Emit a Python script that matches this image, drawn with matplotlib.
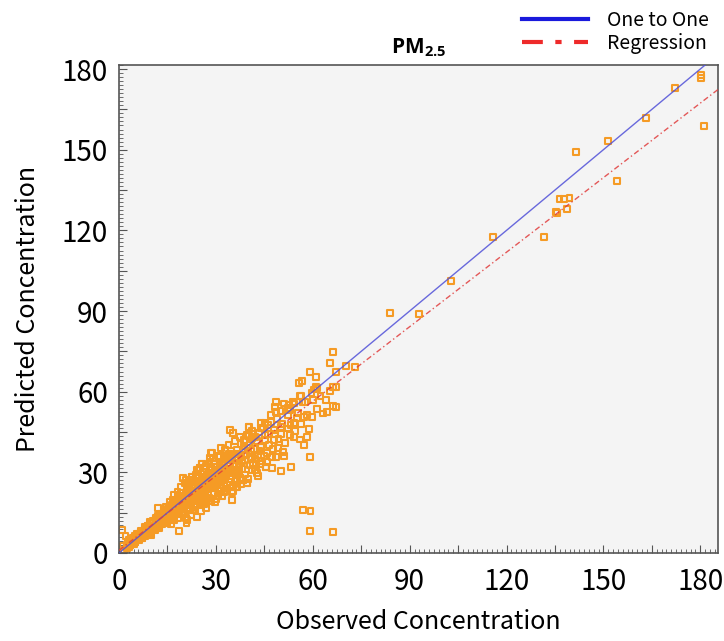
import matplotlib
matplotlib.use("Agg")
import matplotlib.pyplot as plt
from matplotlib.lines import Line2D
from matplotlib.ticker import MultipleLocator, FuncFormatter
import numpy as np

plt.rcParams['font.family'] = ['Noto Sans CJK KR', 'DejaVu Sans']
plt.rcParams['mathtext.fontset'] = 'custom'
plt.rcParams['mathtext.rm'] = 'Open Sans'
plt.rcParams['mathtext.bf'] = 'Open Sans:bold'

# dense band, read row by row along the diagonal
obs_band = [0.8, 1.5, 1.2, 2.0, 2.4, 2.8, 3.1, 3.5, 3.9, 4.2, 4.6,
            5.0, 5.3, 5.7, 6.1, 6.4, 6.8, 7.2, 7.5, 7.9, 8.2, 8.6, 8.9, 9.3, 9.7,
            10.0, 10.2, 10.5, 10.8, 11.1, 11.3, 11.6, 11.9, 12.1, 12.4, 12.7, 13.0, 13.2, 13.5, 13.8, 14.1, 14.4, 14.7,
            15.0, 15.2, 15.5, 15.7, 16.0, 16.3, 16.5, 16.8, 17.0, 17.2, 17.5, 17.8, 18.0, 18.3, 18.6, 18.9, 19.1, 19.4, 19.7,
            20.0, 20.2, 20.5, 20.7, 20.9, 21.2, 21.4, 21.7, 22.0, 22.3, 22.5, 22.7, 23.0, 23.3, 23.6, 23.9, 24.2, 24.4, 24.7,
            25.0, 25.2, 25.5, 25.7, 26.0, 26.3, 26.6, 26.8, 27.1, 27.4, 27.6, 27.9, 28.2, 28.4, 28.8, 29.0, 29.3, 29.6, 29.8,
            30.1, 30.4, 30.7, 31.0, 31.2, 31.5, 31.8, 32.1, 32.4, 32.6, 32.9, 33.2, 33.5, 33.8, 34.0, 34.4, 34.6, 34.9,
            35.1, 35.4, 35.6, 35.9, 36.2, 36.4, 36.7, 37.0, 37.4, 37.6, 37.9, 38.2, 38.5, 38.8, 39.1, 39.5, 39.8,
            40.1, 40.3, 40.6, 40.9, 41.3, 41.6, 42.0, 42.4, 42.8, 43.1, 43.5, 43.9, 44.2]
pred_band = [8.6, 1.2, 2.5, 6.2, 2.0, 3.6, 4.8, 2.9, 4.1, 5.6, 3.5,
             4.2, 5.8, 7.1, 4.9, 6.6, 8.2, 5.6, 7.4, 9.0, 6.3, 8.1, 10.2, 7.0, 11.4,
             6.7, 9.1, 11.8, 10.2, 8.5, 12.9, 10.6, 13.8, 16.6, 9.4, 12.2, 14.7, 10.8, 13.1, 15.9, 11.5, 17.2, 13.6,
             11.2, 14.1, 16.8, 18.9, 12.6, 15.4, 17.9, 13.7, 21.6, 16.2, 19.4, 14.3, 18.1, 20.6, 8.2, 15.8, 22.4, 17.3, 27.8,
             15.1, 18.4, 21.3, 27.1, 11.3, 12.3, 16.7, 23.8, 19.6, 14.2, 25.3, 28.4, 21.9, 17.2, 26.4, 19.8, 13.5, 30.9, 23.1,
             18.1, 31.5, 24.6, 33.3, 21.4, 27.5, 19.5, 16.6, 29.2, 23.8, 26.1, 20.6, 31.2, 37.1, 24.9, 35.2, 22.1, 28.3, 18.9,
             26.4, 32.1, 21.3, 29.8, 35.6, 24.1, 30.9, 27.2, 33.7, 22.6, 38.4, 29.5, 25.3, 32.8, 36.9, 45.7, 27.6, 22.5,
             19.7, 44.5, 30.4, 34.8, 24.6, 38.2, 28.9, 33.1, 27.8, 40.6, 36.3, 31.2, 27.1, 42.1, 34.5, 25.9, 38.9,
             47.0, 43.6, 32.8, 37.9, 30.9, 44.2, 35.1, 32.7, 41.6, 28.6, 37.8, 46.4, 34.2]

# second pass over the wider part of the band
obs_band2 = [15.4, 15.9, 16.2, 16.7, 17.1, 17.6, 18.1, 18.4, 18.8, 19.2, 19.5, 19.9,
             20.3, 20.8, 21.0, 21.5, 21.9, 22.1, 22.6, 22.9, 23.2, 23.7, 24.0, 24.5, 24.9,
             25.3, 25.6, 25.9, 26.2, 26.7, 27.0, 27.3, 27.8, 28.0, 28.5, 28.9, 29.1, 29.5, 29.9,
             30.2, 30.6, 30.9, 31.3, 31.7, 32.0, 32.3, 32.8, 33.1, 33.4, 33.9, 34.2, 34.5, 34.8,
             35.3, 35.7, 36.0, 36.3, 36.8, 37.1, 37.5, 37.8, 38.1, 38.6, 38.9, 39.3, 39.6,
             40.0, 40.4, 40.8, 41.1, 41.5, 41.9, 42.2, 42.6, 43.0, 43.3, 43.7, 44.0, 44.5, 44.8,
             45.3, 45.9, 46.5, 47.0, 47.6, 48.2, 48.8, 49.4, 50.0, 50.6, 51.5, 52.3, 53.1, 53.8,
             54.6, 55.5, 56.4, 57.6, 58.7, 60.1, 61.3, 62.4, 64.0, 65.3]
pred_band2 = [12.9, 16.0, 10.9, 19.7, 12.4, 16.6, 22.8, 13.1, 18.9, 24.6, 14.6, 20.8,
              25.9, 13.0, 19.0, 26.3, 15.8, 22.0, 27.2, 16.1, 23.0, 29.1, 17.9, 21.8, 27.8,
              15.7, 22.9, 30.2, 18.2, 25.1, 32.4, 20.0, 27.0, 33.9, 19.3, 29.7, 24.1, 33.1, 20.2,
              27.8, 36.1, 23.0, 31.8, 38.9, 21.1, 28.7, 35.2, 24.0, 34.4, 40.1, 26.5, 31.0, 37.9,
              23.1, 32.6, 41.5, 27.6, 35.8, 30.3, 43.2, 25.6, 34.2, 39.6, 29.2, 36.5, 43.9,
              27.6, 40.1, 34.9, 45.3, 33.4, 38.7, 43.0, 29.7, 36.4, 44.8, 33.0, 39.6, 46.5, 36.0,
              43.8, 34.0, 40.3, 51.2, 38.8, 44.1, 50.0, 42.4, 52.8, 48.1, 41.0, 53.9, 47.6, 56.2,
              45.5, 52.0, 47.9, 56.0, 46.1, 57.0, 53.4, 58.3, 56.8, 60.4]

# core of the band, close to the diagonal
obs_core = [3.3, 4.4, 5.5, 6.6, 7.7, 8.8, 9.9, 11.0, 12.0, 13.1, 14.2, 15.3, 16.4, 17.4, 18.5, 19.6, 20.6,
            21.6, 22.8, 23.8, 24.9, 26.0, 27.0, 28.1, 29.2, 30.2, 31.3, 32.4, 33.4, 34.5, 35.6, 36.6, 37.7, 38.8,
            3.8, 4.9, 6.0, 7.1, 8.3, 9.4, 10.4, 11.5, 12.6, 13.6, 14.8, 15.8, 16.9, 18.0, 19.0, 20.1,
            21.1, 22.2, 23.3, 24.3, 25.4, 26.5, 27.5, 28.6, 29.7, 30.8, 31.8, 32.9, 34.0, 35.0, 36.1, 37.2,
            2.5, 3.0, 4.0, 5.0, 5.9, 6.9, 7.4, 8.0, 8.6, 9.1, 9.7, 10.3, 10.9, 11.4, 12.3, 12.8, 13.3, 13.9,
            14.5, 15.1, 15.6, 16.2, 16.7, 17.3, 17.9, 18.4, 18.9, 19.5, 20.2, 20.7, 21.3, 21.8, 22.4, 22.9,
            23.5, 24.1, 24.6, 25.2, 25.8, 26.4, 26.9, 27.5, 28.1, 28.7, 29.3, 29.9, 30.5, 31.1, 31.7, 32.3,
            33.0, 33.6, 34.2, 34.8]
pred_core = [3.0, 4.1, 5.2, 6.1, 7.4, 8.1, 9.5, 10.3, 11.6, 12.2, 13.7, 14.1, 15.6, 16.2, 17.8, 18.1, 19.7,
             20.3, 21.5, 22.9, 23.4, 24.8, 25.6, 26.3, 27.9, 28.4, 29.6, 30.8, 31.3, 32.9, 33.2, 34.7, 35.5, 36.4,
             4.6, 3.9, 7.0, 5.6, 9.1, 7.8, 11.2, 9.6, 13.4, 11.3, 15.9, 13.2, 18.3, 15.1, 20.4, 16.9,
             22.6, 18.7, 24.8, 20.5, 26.7, 22.4, 28.8, 24.2, 30.9, 26.1, 32.6, 28.3, 34.5, 30.1, 36.8, 31.9,
             3.1, 2.2, 5.2, 6.3, 5.0, 7.8, 6.4, 9.6, 7.1, 10.0, 8.6, 11.0, 9.0, 12.5, 10.2, 13.9, 11.6, 14.9,
             12.3, 16.3, 13.9, 17.2, 14.8, 18.7, 15.5, 19.8, 16.6, 21.2, 17.6, 22.3, 18.1, 23.5, 19.5, 24.6,
             20.3, 25.9, 21.2, 26.8, 22.5, 28.4, 23.6, 29.3, 24.4, 30.8, 25.8, 31.9, 26.6, 33.2, 27.8, 34.0,
             28.7, 35.3, 30.0, 36.4]

# sparser points between 44 and 75
obs_mid = [45.1, 47.1, 48.6, 51.2, 52.7, 54.2, 56.1, 56.8, 53.0, 52.2, 55.2, 57.3, 54.2, 58.3, 59.8,
           63.2, 64.4, 66.2, 67.2, 59.1, 61.1, 55.6, 56.6, 60.3, 61.4, 66.2, 67.2, 66.2, 65.2, 70.2,
           73.0, 67.2, 53.0, 54.2, 56.1, 57.3, 58.3, 59.1, 50.7, 49.3, 51.2, 48.6, 45.9, 47.3, 45.6,
           47.3, 50.2, 53.2, 57.1, 59.3, 59.1, 66.2, 45.1, 46.1, 48.1, 50.2, 48.1, 44.1, 50.2, 52.2,
           48.5, 48.3, 44.1, 46.1, 28.8, 28.3, 25.2, 25.7, 24.2, 22.7, 35.4, 40.3, 40.0, 41.2,
           45.6, 42.0, 42.4, 37.4, 38.5, 35.4, 36.4, 39.5, 56.3, 59.6, 61.0]
pred_mid = [48.2, 48.8, 56.3, 55.6, 55.0, 55.6, 58.4, 56.3, 53.2, 51.3, 50.1, 50.7, 48.2, 51.3, 50.7,
            51.9, 52.5, 54.6, 54.4, 67.2, 65.4, 63.3, 63.9, 60.8, 61.2, 61.8, 61.8, 74.6, 70.5, 69.5,
            69.3, 67.2, 43.9, 43.2, 42.2, 40.1, 43.2, 35.6, 37.7, 38.9, 36.1, 35.8, 37.1, 35.8, 31.8,
            31.5, 30.5, 31.9, 16.1, 15.5, 8.3, 7.7, 41.9, 44.4, 45.7, 46.9, 41.9, 39.5, 44.4, 46.3,
            52.5, 54.2, 48.2, 47.6, 37.1, 35.2, 31.5, 33.3, 30.9, 28.4, 44.5, 47.0, 43.6, 42.8,
            31.9, 30.9, 32.7, 27.8, 27.1, 24.6, 24.6, 25.9, 58.4, 59.6, 61.9]

# high concentration points
obs_high = [180.1, 180.2, 172.3, 163.3, 181.1, 151.4, 141.5, 154.3, 136.4, 137.9, 139.5,
            135.4, 135.5, 138.7, 115.8, 131.6, 102.9, 83.9, 93.0]
pred_high = [177.7, 176.5, 173.1, 161.7, 158.7, 153.2, 149.3, 138.4, 131.6, 131.6, 132.0,
             126.9, 126.3, 128.0, 117.5, 117.4, 101.0, 89.2, 88.8]

reg_slope = 0.924
reg_intercept = 1.0

obs = obs_band + obs_band2 + obs_core + obs_mid + obs_high
pred = pred_band + pred_band2 + pred_core + pred_mid + pred_high

fig = plt.figure(figsize=(7.24, 6.41), dpi=100)
ax = fig.add_axes([0.1644, 0.1373, 0.8274, 0.7613])
ax.set_facecolor('#f4f4f4')

ax.scatter(obs, pred, s=18, marker='s', facecolors='none',
           edgecolors='#f59b25', linewidths=1.5, zorder=2)

xx = np.array([0, 186])
ax.plot(xx, xx, color='#5050d8', lw=1.0, alpha=0.85, zorder=3)
ax.plot(xx, reg_slope * xx + reg_intercept, color='#e03c3c', lw=1.0,
        dashes=(4, 2, 1, 2), alpha=0.85, zorder=3)

ax.set_xlim(0, 185.5)
ax.set_ylim(0, 181.5)

for axis in (ax.xaxis, ax.yaxis):
    axis.set_major_locator(MultipleLocator(15))
    axis.set_minor_locator(MultipleLocator(1.5))
    axis.set_major_formatter(FuncFormatter(lambda v, p: '%d' % v if int(round(v)) % 30 == 0 else ''))
ax.tick_params(which='major', direction='in', length=6, width=0.8, colors='#555555',
               labelsize=20, labelcolor='black', pad=8)
ax.tick_params(axis='x', which='major', pad=10)
ax.tick_params(which='minor', direction='in', length=3, width=0.6, colors='#555555')
for sp in ax.spines.values():
    sp.set_color('#555555')
    sp.set_linewidth(1.2)

ax.set_xlabel('Observed Concentration', fontsize=18, labelpad=9)
ax.set_ylabel('Predicted Concentration', fontsize=18, labelpad=15)
ax.set_title(r'$\mathbf{PM_{2.5}}$', fontsize=15, pad=8)

handles = [Line2D([], [], color='#1a1adc', lw=3),
           Line2D([], [], color='#ee2a2a', lw=3, dashes=(5, 3, 1.5, 3))]
fig.legend(handles, ['One to One', 'Regression'], loc='upper right',
           bbox_to_anchor=(1.003, 1.012), frameon=False, fontsize=14,
           handlelength=3.4, handletextpad=0.95, labelspacing=0.12)

plt.savefig('out.png', dpi=100)
